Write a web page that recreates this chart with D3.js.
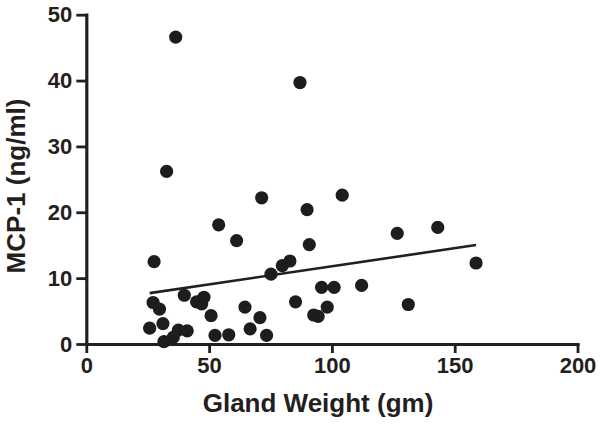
<!DOCTYPE html>
<html>
<head>
<meta charset="utf-8">
<script src="https://cdn.jsdelivr.net/npm/d3@7"></script>
<style>
  html, body { margin: 0; padding: 0; background: #fff; }
  svg { display: block; }
  text { font-family: "Liberation Sans", Arial, Helvetica, sans-serif; font-weight: bold; fill: #231f20; }
</style>
</head>
<body>
<svg id="chart" width="601" height="426"></svg>
<script>
// Data: gland weight (gm) vs MCP-1 (ng/ml)
const glandWeight = [36.4, 32.7, 87.0, 27.6, 53.9, 61.2, 71.4, 89.9, 104.2, 90.8,
                     82.9, 79.8, 75.2, 126.6, 143.1, 158.7, 112.1, 131.1, 95.8, 100.9,
                     85.2, 98.1, 92.6, 94.4, 50.8, 64.6, 70.7, 66.7, 52.4, 58.0,
                     73.4, 27.2, 29.8, 39.9, 44.9, 47.9, 47.0, 25.8, 31.2, 31.6,
                     35.4, 37.5, 41.1];
const mcp1 = [46.6, 26.2, 39.7, 12.5, 18.1, 15.7, 22.2, 20.4, 22.6, 15.1,
              12.6, 11.9, 10.6, 16.8, 17.7, 12.3, 8.9, 6.0, 8.6, 8.6,
              6.4, 5.6, 4.4, 4.2, 4.3, 5.6, 4.0, 2.3, 1.3, 1.4,
              1.3, 6.3, 5.3, 7.4, 6.4, 7.1, 6.1, 2.4, 3.1, 0.35,
              1.0, 2.1, 2.0];
const xTicks = [0, 50, 100, 150, 200];
const yTicks = [0, 10, 20, 30, 40, 50];
const fitSlope = 0.0549;
const fitIntercept = 6.31;
const xTitle = "Gland Weight (gm)";
const yTitle = "MCP-1 (ng/ml)";

const svg = d3.select("#chart");
const x = d3.scaleLinear().domain([0, 200]).range([86.3, 577.5]);
const y = d3.scaleLinear().domain([0, 50]).range([344, 14.7]);
const ink = "#231f20";

// X axis
const gx = svg.append("g").attr("transform", `translate(0,${y(0)})`)
  .call(d3.axisBottom(x).tickValues(xTicks).tickFormat(d3.format("d")).tickSize(9).tickPadding(4).tickSizeOuter(0));
// Y axis
const gy = svg.append("g").attr("transform", `translate(${x(0)},0)`)
  .call(d3.axisLeft(y).tickValues(yTicks).tickFormat(d3.format("d")).tickSize(10).tickPadding(4).tickSizeOuter(0));

[gx, gy].forEach(g => {
  g.select(".domain").attr("stroke", ink).attr("stroke-width", 3.2).attr("stroke-linecap", "square");
  g.selectAll(".tick line").attr("stroke", ink).attr("stroke-width", 2.8);
  g.selectAll(".tick text").style("font-size", "22px").attr("fill", ink)
    .style("font-family", "'Liberation Sans', Arial, sans-serif").style("font-weight", "bold");
});
gx.selectAll(".tick text").attr("dy", "0.71em");

// Regression line over data range
const xExt = d3.extent(glandWeight);
const fitPts = xExt.map(v => [v, fitIntercept + fitSlope * v]);
svg.append("path")
  .attr("d", d3.line().x(d => x(d[0])).y(d => y(d[1]))(fitPts))
  .attr("stroke", ink).attr("stroke-width", 2.6).attr("fill", "none");

// Points
svg.append("g").selectAll("circle")
  .data(glandWeight.map((g, i) => [g, mcp1[i]]))
  .join("circle")
  .attr("cx", d => x(d[0]))
  .attr("cy", d => y(d[1]))
  .attr("r", 6.6)
  .attr("fill", "#1e1c1d");

// Titles
svg.append("text")
  .attr("x", 318).attr("y", 412)
  .attr("text-anchor", "middle")
  .style("font-size", "26px")
  .text(xTitle);

svg.append("text")
  .attr("transform", `translate(25,186) rotate(-90)`)
  .attr("text-anchor", "middle")
  .style("font-size", "26px")
  .text(yTitle);
</script>
</body>
</html>
